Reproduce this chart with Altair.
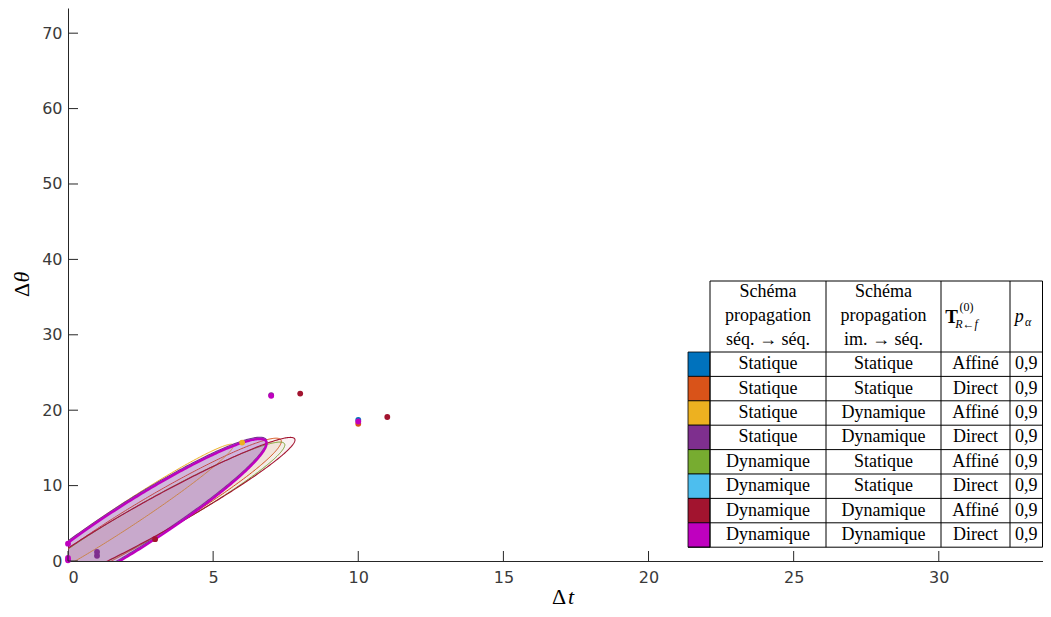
import numpy as np
import pandas as pd
import altair as alt

# ---------------- legend-table content ----------------
seq_scheme = ["Statique"] * 4 + ["Dynamique"] * 4
im_scheme = ["Statique", "Statique", "Dynamique", "Dynamique"] * 2
transform = ["Affiné", "Direct"] * 4
p_alpha_txt = ["0,9"] * 8
p_alpha = 0.9
series = [f"{a} | {b} | {c}" for a, b, c in zip(seq_scheme, im_scheme, transform)]
colors = ["#0072BD", "#D95319", "#EDB120", "#7E2F8E",
          "#77AC30", "#4DBEEE", "#A2142F", "#BF00BF"]

# ---------------- ellipse statistics (Δt, Δθ) per series ----------------
mean_t     = [2.30, 2.90, 2.00, 2.30, 3.00, 2.30, 3.00, 2.30]
mean_theta = [4.94, 5.90, 6.05, 4.99, 5.92, 4.89, 5.93, 4.79]
sd_t       = [2.116, 2.074, 1.724, 2.116, 2.083, 2.116, 2.246, 2.116]
sd_theta   = [5.31, 4.84, 4.40, 5.31, 4.59, 5.31, 4.875, 5.31]
rho        = [0.949, 0.960, 0.9796, 0.949, 0.9617, 0.949, 0.9675, 0.949]
line_w     = [1.0, 1.0, 1.0, 1.6, 1.0, 1.0, 1.1, 2.4]
fill_op    = [0.08, 0.06, 0.06, 0.11, 0.05, 0.07, 0.06, 0.14]

# ---------------- individual points ----------------
pt_series = [7, 7, 7, 3, 3, 6, 2, 3, 7, 6, 1, 0, 7, 6]
pt_t      = [0, 0, 0, 1, 1, 3, 6, 7, 7, 8, 10, 10, 10, 11]
pt_theta  = [0.1, 0.4, 2.3, 0.7, 1.2, 2.9, 15.7, 22.0, 21.9, 22.2, 18.2, 18.7, 18.5, 19.1]

# ---------------- axes ----------------
x_ticks = [0, 5, 10, 15, 20, 25, 30]
y_ticks = [0, 10, 20, 30, 40, 50, 60, 70]
X_MAX, Y_MAX = 33.59, 73.34
W, H = 975, 553

k = np.sqrt(-2.0 * np.log(1.0 - p_alpha))

color_scale = alt.Scale(domain=series, range=colors)
xs = alt.Scale(domain=[0, X_MAX], nice=False, zero=False)
ys = alt.Scale(domain=[0, Y_MAX], nice=False, zero=False)

layers = []
for i, name in enumerate(series):
    a_t = k * sd_t[i]
    a_th = k * sd_theta[i]
    r = rho[i]
    q = np.sqrt(1 - r * r)
    u = np.linspace(0, np.pi, 241)
    area_df = pd.DataFrame({
        "s": name,
        "t": mean_t[i] + a_t * np.cos(u),
        "lo": mean_theta[i] + a_th * (r * np.cos(u) - q * np.sin(u)),
        "hi": mean_theta[i] + a_th * (r * np.cos(u) + q * np.sin(u)),
    })
    v = np.linspace(0, 2 * np.pi, 361)
    line_df = pd.DataFrame({
        "s": name,
        "i": np.arange(len(v)),
        "t": mean_t[i] + a_t * np.cos(v),
        "th": mean_theta[i] + a_th * (r * np.cos(v) + q * np.sin(v)),
    })
    layers.append(
        alt.Chart(area_df).mark_area(clip=True, fillOpacity=fill_op[i], strokeWidth=0).encode(
            x=alt.X("t:Q", scale=xs),
            y=alt.Y("lo:Q", scale=ys),
            y2="hi:Q",
            fill=alt.Fill("s:N", scale=color_scale, legend=None),
        )
    )
    layers.append(
        alt.Chart(line_df).mark_line(clip=True, strokeWidth=line_w[i]).encode(
            x=alt.X("t:Q", scale=xs),
            y=alt.Y("th:Q", scale=ys),
            order="i:Q",
            color=alt.Color("s:N", scale=color_scale, legend=None),
        )
    )

pts = pd.DataFrame({"s": [series[j] for j in pt_series], "t": pt_t, "th": pt_theta,
                    "o": range(len(pt_t))})
layers.append(
    alt.Chart(pts).mark_circle(size=34, opacity=1).encode(
        x=alt.X("t:Q", scale=xs),
        y=alt.Y("th:Q", scale=ys),
        color=alt.Color("s:N", scale=color_scale, legend=None),
        order="o:Q",
    )
)

# inward ticks
layers.append(
    alt.Chart(pd.DataFrame({"v": x_ticks})).mark_rule(color="#262626", strokeWidth=1).encode(
        x=alt.X("v:Q", scale=xs), y=alt.value(H), y2=alt.value(H - 10))
)
layers.append(
    alt.Chart(pd.DataFrame({"v": y_ticks})).mark_rule(color="#262626", strokeWidth=1).encode(
        y=alt.Y("v:Q", scale=ys), x=alt.value(0), x2=alt.value(10))
)

# ---------------- legend table layout (pixel positions in plot area) ----------------
COLX = [620, 642, 758, 873, 942, 974.5]
TOP, HDR_B, ROW_H = 273, 344, 24.4
row_edges = [HDR_B + ROW_H * r for r in range(9)]

def pix(df):
    return dict(x=alt.X("x:Q", scale=None, axis=None), y=alt.Y("y:Q", scale=None, axis=None))

bg = pd.DataFrame({"x": [COLX[1]], "x2": [COLX[5]], "y": [TOP], "y2": [row_edges[-1]]})
layers.append(alt.Chart(bg).mark_rect(fill="white").encode(**pix(bg), x2="x2:Q", y2="y2:Q"))

sw = pd.DataFrame({"s": series, "x": COLX[0], "x2": COLX[1],
                   "y": row_edges[:-1], "y2": row_edges[1:]})
layers.append(alt.Chart(sw).mark_rect(stroke="#000000", strokeWidth=0.8).encode(
    **pix(sw), x2="x2:Q", y2="y2:Q",
    fill=alt.Fill("s:N", scale=color_scale, legend=None)))

segs = []
for yv in [TOP, HDR_B] + row_edges[1:-1]:
    segs.append((COLX[1], COLX[5], yv, yv))
segs.append((COLX[0], COLX[5], row_edges[-1], row_edges[-1]))
for xv in COLX[1:]:
    segs.append((xv, xv, TOP, row_edges[-1]))
seg_df = pd.DataFrame(segs, columns=["x", "x2", "y", "y2"])
layers.append(alt.Chart(seg_df).mark_rule(color="#000000", strokeWidth=1).encode(
    **pix(seg_df), x2="x2:Q", y2="y2:Q"))

SERIF = "'Liberation Serif', 'Times New Roman', 'DejaVu Serif', serif"

centers = [(COLX[c] + COLX[c + 1]) / 2 for c in range(1, 5)]
cells = []
for r in range(8):
    yc = (row_edges[r] + row_edges[r + 1]) / 2
    for c, col in enumerate([seq_scheme, im_scheme, transform, p_alpha_txt]):
        cells.append((col[r], centers[c], yc))
hdr1 = ["Schéma", "propagation", "séq. → séq."]
hdr2 = ["Schéma", "propagation", "im. → séq."]
for j, yv in enumerate([TOP + 11, TOP + 35, TOP + 59]):
    cells.append((hdr1[j], centers[0], yv))
    cells.append((hdr2[j], centers[1], yv))
cell_df = pd.DataFrame(cells, columns=["txt", "x", "y"])
layers.append(alt.Chart(cell_df).mark_text(font=SERIF, fontSize=18, color="#000000",
                                           baseline="middle", align="center").encode(
    **pix(cell_df), text="txt:N"))

bold_df = pd.DataFrame({"txt": ["T"], "x": [centers[2] - 24], "y": [TOP + 36]})
layers.append(alt.Chart(bold_df).mark_text(font=SERIF, fontSize=19, fontWeight="bold",
                                           color="#000000", baseline="middle").encode(
    **pix(bold_df), text="txt:N"))
sup_df = pd.DataFrame({"txt": ["(0)"], "x": [centers[2] - 9], "y": [TOP + 26]})
layers.append(alt.Chart(sup_df).mark_text(font=SERIF, fontSize=12, color="#000000",
                                          baseline="middle").encode(**pix(sup_df), text="txt:N"))
sub_df = pd.DataFrame({"txt": ["R←f"], "x": [centers[2] - 9], "y": [TOP + 43]})
layers.append(alt.Chart(sub_df).mark_text(font=SERIF, fontSize=12, fontStyle="italic",
                                          color="#000000", baseline="middle").encode(
    **pix(sub_df), text="txt:N"))
p_df = pd.DataFrame({"txt": ["p"], "x": [centers[3] - 7], "y": [TOP + 36]})
layers.append(alt.Chart(p_df).mark_text(font=SERIF, fontSize=18, fontStyle="italic",
                                        color="#000000", baseline="middle").encode(
    **pix(p_df), text="txt:N"))
a_df = pd.DataFrame({"txt": ["α"], "x": [centers[3] + 2], "y": [TOP + 41]})
layers.append(alt.Chart(a_df).mark_text(font=SERIF, fontSize=12, fontStyle="italic",
                                        color="#000000", baseline="middle").encode(
    **pix(a_df), text="txt:N"))

# ---------------- axis titles (Δ upright, variable italic) ----------------
xt = pd.DataFrame({"txt": ["Δ"], "x": [491], "y": [589]})
layers.append(alt.Chart(xt).mark_text(font=SERIF, fontSize=22, color="#000000",
                                      baseline="middle").encode(**pix(xt), text="txt:N"))
xt2 = pd.DataFrame({"txt": ["t"], "x": [503], "y": [589]})
layers.append(alt.Chart(xt2).mark_text(font=SERIF, fontSize=22, fontStyle="italic",
                                       color="#000000", baseline="middle").encode(**pix(xt2), text="txt:N"))
yt = pd.DataFrame({"txt": ["Δ"], "x": [-46], "y": [282]})
layers.append(alt.Chart(yt).mark_text(font=SERIF, fontSize=22, color="#000000", angle=270,
                                      baseline="middle").encode(**pix(yt), text="txt:N"))
yt2 = pd.DataFrame({"txt": ["θ"], "x": [-46], "y": [269]})
layers.append(alt.Chart(yt2).mark_text(font=SERIF, fontSize=22, fontStyle="italic", angle=270,
                                       color="#000000", baseline="middle").encode(**pix(yt2), text="txt:N"))

axis_common = dict(domainColor="#262626", domainWidth=1, ticks=False, grid=False,
                   labelFont="DejaVu Sans", labelFontSize=16, labelColor="#3a3a3a", title=None)
base_axes = alt.Chart(pd.DataFrame({"t": [0.0], "th": [0.0]})).mark_point(opacity=0).encode(
    x=alt.X("t:Q", scale=xs, axis=alt.Axis(values=x_ticks, labelPadding=8, **axis_common)),
    y=alt.Y("th:Q", scale=ys, axis=alt.Axis(values=y_ticks, labelPadding=6, **axis_common)),
)

chart = alt.layer(base_axes, *layers).properties(
    width=W, height=H,
    autosize=alt.AutoSizeParams(type="none"),
    padding={"left": 60, "top": 0, "right": 0, "bottom": 48},
    background="white",
).configure_view(stroke=None)

chart.save("out.html", embed_options={"renderer": "svg", "actions": False})
